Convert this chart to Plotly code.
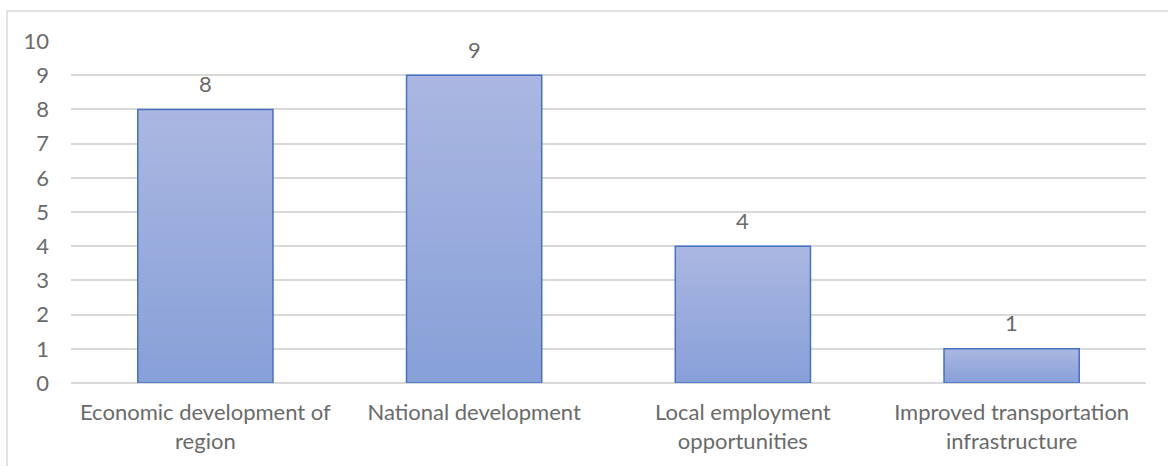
import plotly.graph_objects as go

categories = ["Economic development of region", "National development",
              "Local employment opportunities", "Improved transportation infrastructure"]
tick_labels = ["Economic development of<br>region", "National development",
               "Local employment<br>opportunities", "Improved transportation<br>infrastructure"]
values = [8, 9, 4, 1]

TOP = (171, 183, 225)
BOT = (135, 160, 216)
N = 40
TXT = "#6a6a6a"

fig = go.Figure()
for i in range(N):
    frac_top = (N - i) / N
    f = (N - i - 0.5) / N
    c = tuple(round(BOT[k] + (TOP[k] - BOT[k]) * f) for k in range(3))
    fig.add_trace(go.Bar(
        x=categories, y=[v * frac_top for v in values],
        marker=dict(color="rgb(%d,%d,%d)" % c, line=dict(width=0)),
        hoverinfo="skip", showlegend=False))

fig.add_trace(go.Bar(
    x=categories, y=values,
    marker=dict(color="rgba(0,0,0,0)", line=dict(color="#4472C4", width=1.5)),
    showlegend=False))

for cat, v in zip(categories, values):
    fig.add_annotation(x=cat, y=v, text=str(v), showarrow=False,
                       yshift=26, font=dict(family="Lato", size=22, color=TXT))

W, H = 1168, 466
l, r, t, b = 71, 22, 41, 83
pw, ph = W - l - r, H - t - b

fig.update_layout(
    width=W, height=H, barmode="overlay", bargap=0.497,
    margin=dict(l=l, r=r, t=t, b=b),
    plot_bgcolor="white", paper_bgcolor="white",
    font=dict(family="Lato", size=22, color=TXT),
    xaxis=dict(tickvals=categories, ticktext=tick_labels, showgrid=False,
               showline=False, ticks="", ticklabelstandoff=14,
               tickfont=dict(size=22, color=TXT)),
    yaxis=dict(range=[0, 10], dtick=1, showgrid=True, gridcolor="#D9D9D9",
               gridwidth=1.5, zeroline=True, zerolinecolor="#D9D9D9",
               zerolinewidth=1.5, ticks="", ticklabelstandoff=21,
               tickfont=dict(size=22, color=TXT)),
    shapes=[dict(type="rect", xref="paper", yref="paper",
                 x0=(7 - l) / pw, x1=(W + 20 - l) / pw,
                 y0=-(b + 20) / ph, y1=(H - b - 11) / ph,
                 line=dict(color="#D9D9D9", width=1.5), fillcolor="rgba(0,0,0,0)",
                 layer="below")],
)

fig.write_html("out.html", config={"displayModeBar": False},
               post_script="document.body.style.margin='0';")
